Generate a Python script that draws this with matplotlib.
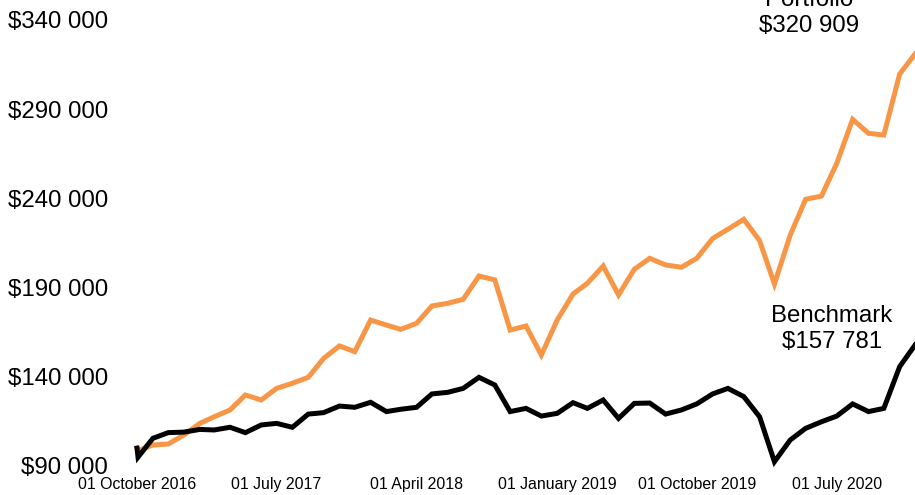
import matplotlib
matplotlib.use("Agg")
import matplotlib.pyplot as plt
import matplotlib.dates as mdates
import pandas as pd

# fechas: inicio + un punto pocos dias despues, luego mensual
fechas = [pd.Timestamp("2016-10-01"), pd.Timestamp("2016-10-03")] + \
    list(pd.date_range("2016-11-01", periods=50, freq="MS"))

portfolio = [100000, 98500, 101800, 102300, 107400, 113900, 117600, 121400, 129800, 127000,
             133500, 136400, 139700, 150300, 157300, 154100, 171800, 169000, 166600, 170000,
             179700, 181200, 183400, 196500, 194300, 166200, 168500, 152200, 171800, 186400,
             192400, 202100, 185900, 200300, 206400, 202700, 201400, 206400, 217500, 222700,
             228300, 216300, 192000, 219500, 239500, 241300, 259700, 284300, 276500, 275500,
             309700, 320909]

benchmark = [100000, 95000, 105500, 108700, 109000, 110500, 110200, 111700, 108700, 113000,
             113900, 111700, 119100, 119900, 123600, 122900, 125700, 120500, 121800, 122900,
             130400, 131300, 133500, 139700, 135400, 120500, 122300, 118000, 119500, 125500,
             122300, 127000, 116700, 125100, 125300, 119100, 121400, 124800, 130400, 133500,
             128900, 117600, 92400, 104600, 111100, 114800, 118000, 124800, 120500, 122300,
             145700, 157781]

yticks = [90000, 140000, 190000, 240000, 290000, 340000]
xticks = pd.date_range("2016-10-01", "2020-07-01", freq="9MS")

plt.rcParams['font.family'] = ['Liberation Sans', 'DejaVu Sans']

def dinero(v):
    return "$" + f"{v:,.0f}".replace(",", " ")

fig = plt.figure(figsize=(9.15, 4.95), dpi=100)
ax = fig.add_axes([137 / 915, 29 / 495, (915 - 137) / 915, (466 - 20) / 495])

ax.plot(fechas, portfolio, color="#F79646", lw=3.6, solid_joinstyle="miter", clip_on=False)
ax.plot(fechas, benchmark, color="black", lw=3.6, solid_joinstyle="miter", clip_on=False)

ax.set_xlim(fechas[0], fechas[-1])
ax.set_ylim(90000, 340000)
ax.set_yticks(yticks)
ax.set_yticklabels([dinero(v) for v in yticks], fontsize=17.3)
ax.set_xticks(xticks)
ax.xaxis.set_major_formatter(mdates.DateFormatter("%d %B %Y"))
ax.tick_params(axis="x", labelsize=11.4, length=0, pad=8)
ax.tick_params(axis="y", length=0, pad=21)
for s in ax.spines.values():
    s.set_visible(False)

ax.annotate("Portfolio\n" + dinero(portfolio[-1]), xy=(fechas[-1], portfolio[-1]),
            xytext=(-106, 41), textcoords="offset pixels", ha="center", va="center",
            fontsize=17.3, annotation_clip=False)
ax.annotate("Benchmark\n" + dinero(benchmark[-1]), xy=(fechas[-1], benchmark[-1]),
            xytext=(-83, 16), textcoords="offset pixels", ha="center", va="center",
            fontsize=17.3, annotation_clip=False)

fig.savefig("out.png", dpi=100)
